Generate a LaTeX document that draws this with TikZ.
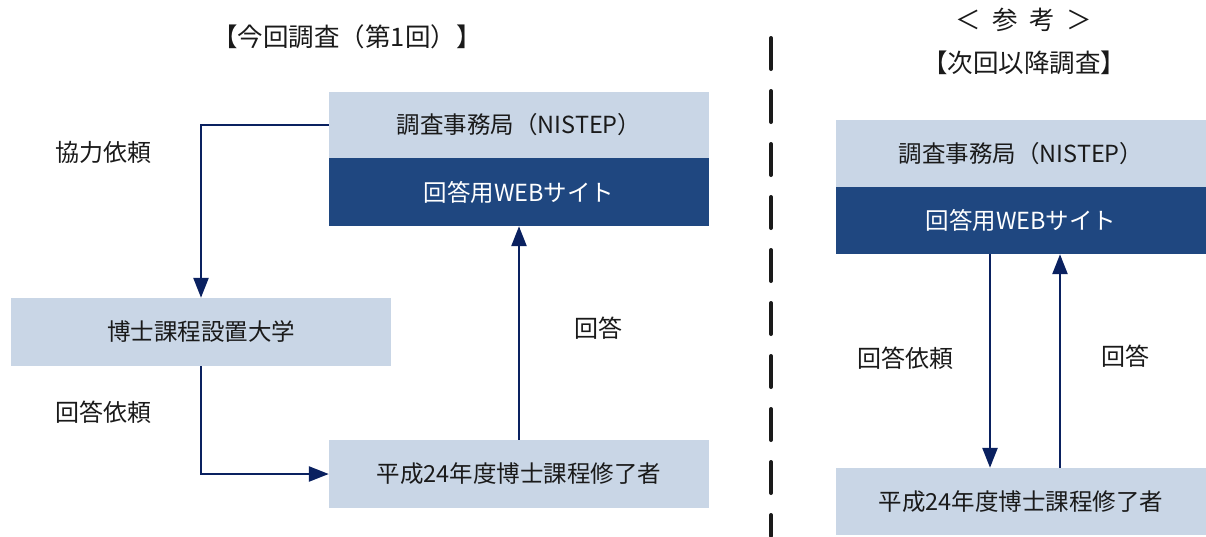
\documentclass[tikz,border=0pt]{standalone}
\usepackage{fontspec}
\setmainfont{Noto Sans CJK JP}
\usetikzlibrary{arrows.meta}
\definecolor{lightbox}{HTML}{C9D6E6}
\definecolor{darkbox}{HTML}{1F4780}
\definecolor{navy}{HTML}{0A2160}
\definecolor{txt}{HTML}{1A1A1A}
\begin{document}
\begin{tikzpicture}[x=1pt,y=-1pt,
  lbox/.style={fill=lightbox,draw=none,minimum width=380pt,minimum height=67pt,inner sep=0pt,text=txt,font=\fontsize{23.5}{28}\selectfont},
  dbox/.style={lbox,fill=darkbox,text=white},
  rlbox/.style={lbox,minimum width=370pt},
  rdbox/.style={dbox,minimum width=370pt},
  lab/.style={text=txt,font=\fontsize{24}{28}\selectfont,inner sep=0pt},
  ttl/.style={text=txt,font=\fontsize{25.5}{30}\selectfont,inner sep=0pt},
  arr/.style={draw=navy,line width=2.5pt,-{Triangle[width=15pt,length=20pt]}},
  sep/.style={draw=txt,line width=4pt,line cap=round,dash pattern=on 31pt off 22pt}
]
\useasboundingbox (0,0) rectangle (1206,536);
% left
\node[ttl] (t1) at (347,37) {【今回調査（第1回）】};
\node[lbox] (nistep) at (519,125) {調査事務局（NISTEP）};
\node[dbox,minimum height=68pt] (web) at (519,192) {回答用WEBサイト};
\node[lbox,minimum height=68pt] (univ) at (201,332) {博士課程設置大学};
\node[lbox,minimum height=68pt] (grad) at (519,474) {平成24年度博士課程修了者};
\node[lab] (l1) at (103,152) {協力依頼};
\node[lab] (l2) at (103,412) {回答依頼};
\node[lab] (l3) at (598,328) {回答};
\draw[arr] (nistep.west) -| (univ.north);
\draw[arr] (univ.south) |- (grad.west);
\draw[arr] (grad.north) -- (web.south);
% separator
\coordinate (s1) at (771,38);
\coordinate (s2) at (771,536);
\draw[sep] (s1) -- (s2);
% right
\node[ttl] (t2) at (1024,20) {＜\hspace{0.45em}参\hspace{0.45em}考\hspace{0.45em}＞};
\node[ttl] (t3) at (1024,63) {【次回以降調査】};
\node[rlbox] (rnistep) at (1021,153.5) {調査事務局（NISTEP）};
\node[rdbox] (rweb) at (1021,220.5) {回答用WEBサイト};
\node[rlbox] (rgrad) at (1021,501.5) {平成24年度博士課程修了者};
\node[lab] (r1) at (905,358) {回答依頼};
\node[lab] (r2) at (1125,356) {回答};
\draw[arr] ([xshift=-31pt]rweb.south) -- ([xshift=-31pt]rgrad.north);
\draw[arr] ([xshift=39pt]rgrad.north) -- ([xshift=39pt]rweb.south);
\end{tikzpicture}
\end{document}
